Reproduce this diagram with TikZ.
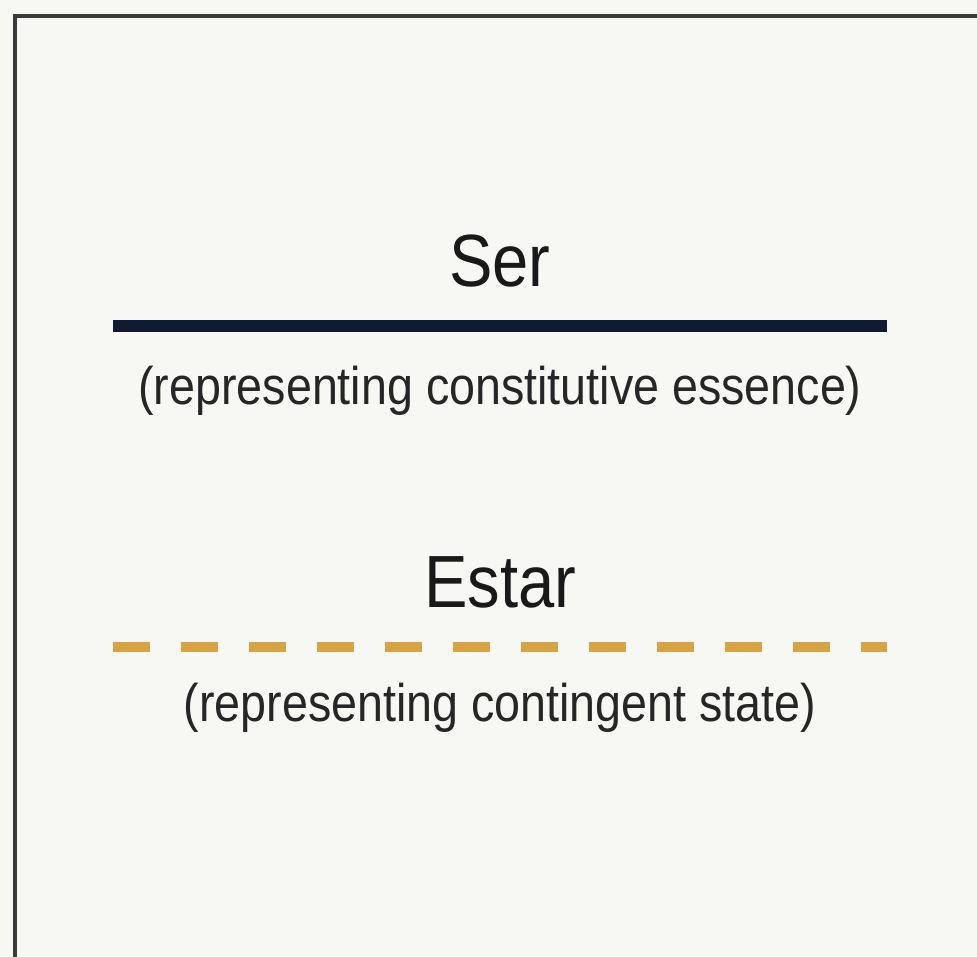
\documentclass[tikz,border=0pt]{standalone}
\usepackage{fontspec}
\setmainfont{Liberation Sans}[FakeStretch=0.88]
\usepackage{tikz}

\definecolor{paper}{HTML}{F7F7F3}
\definecolor{frameGray}{HTML}{3A3A3A}
\definecolor{serNavy}{HTML}{101B33}
\definecolor{estarGold}{HTML}{D8A443}

\begin{document}
\begin{tikzpicture}[> = latex, x = 0.5pt, y = -0.5pt,
	title/.style = {anchor = base, inner sep = 0pt, font = \fontsize{37}{40}\selectfont, text = black!90},
	note/.style = {anchor = base, inner sep = 0pt, font = \fontsize{26.5}{30}\selectfont, text = black!85}]

	% Definitions
	
	\def\wpic{977}		% width of picture in pixels
	\def\hpic{956}		% height of picture in pixels
	\def\xl{113}		% left end of both lines
	\def\xr{887}		% right end of both lines
	\def\xmid{500}		% centre of the texts


	% Background and frame (frame runs off the right and bottom edges)
	
	\useasboundingbox (0, 0) rectangle (\wpic, \hpic);
	\clip (0, 0) rectangle (\wpic, \hpic);
	\fill [paper] (0, 0) rectangle (\wpic, \hpic);
	\draw [frameGray, line width = 2pt] (15, 16) rectangle (\wpic + 40, \hpic + 40);
	
	
	% Ser, solid line
	
	\node [title] (ser) at (\xmid, 287) {Ser};
	\coordinate (serL) at (\xl, 326);
	\coordinate (serR) at (\xr, 326);
	\draw [serNavy, line width = 6pt] (serL) -- (serR);
	\node [note] (serNote) at (\xmid, 404) {(representing constitutive essence)};
	
	
	% Estar, dashed line
	
	\node [title] (estar) at (\xmid, 607) {Estar};
	\coordinate (estarL) at (\xl, 647);
	\coordinate (estarR) at (\xr, 647);
	\draw [estarGold, line width = 5pt, dash pattern = on 18.5pt off 15.5pt] (estarL) -- (estarR);
	\node [note] (estarNote) at (\xmid, 721) {(representing contingent state)};

\end{tikzpicture}
\end{document}
